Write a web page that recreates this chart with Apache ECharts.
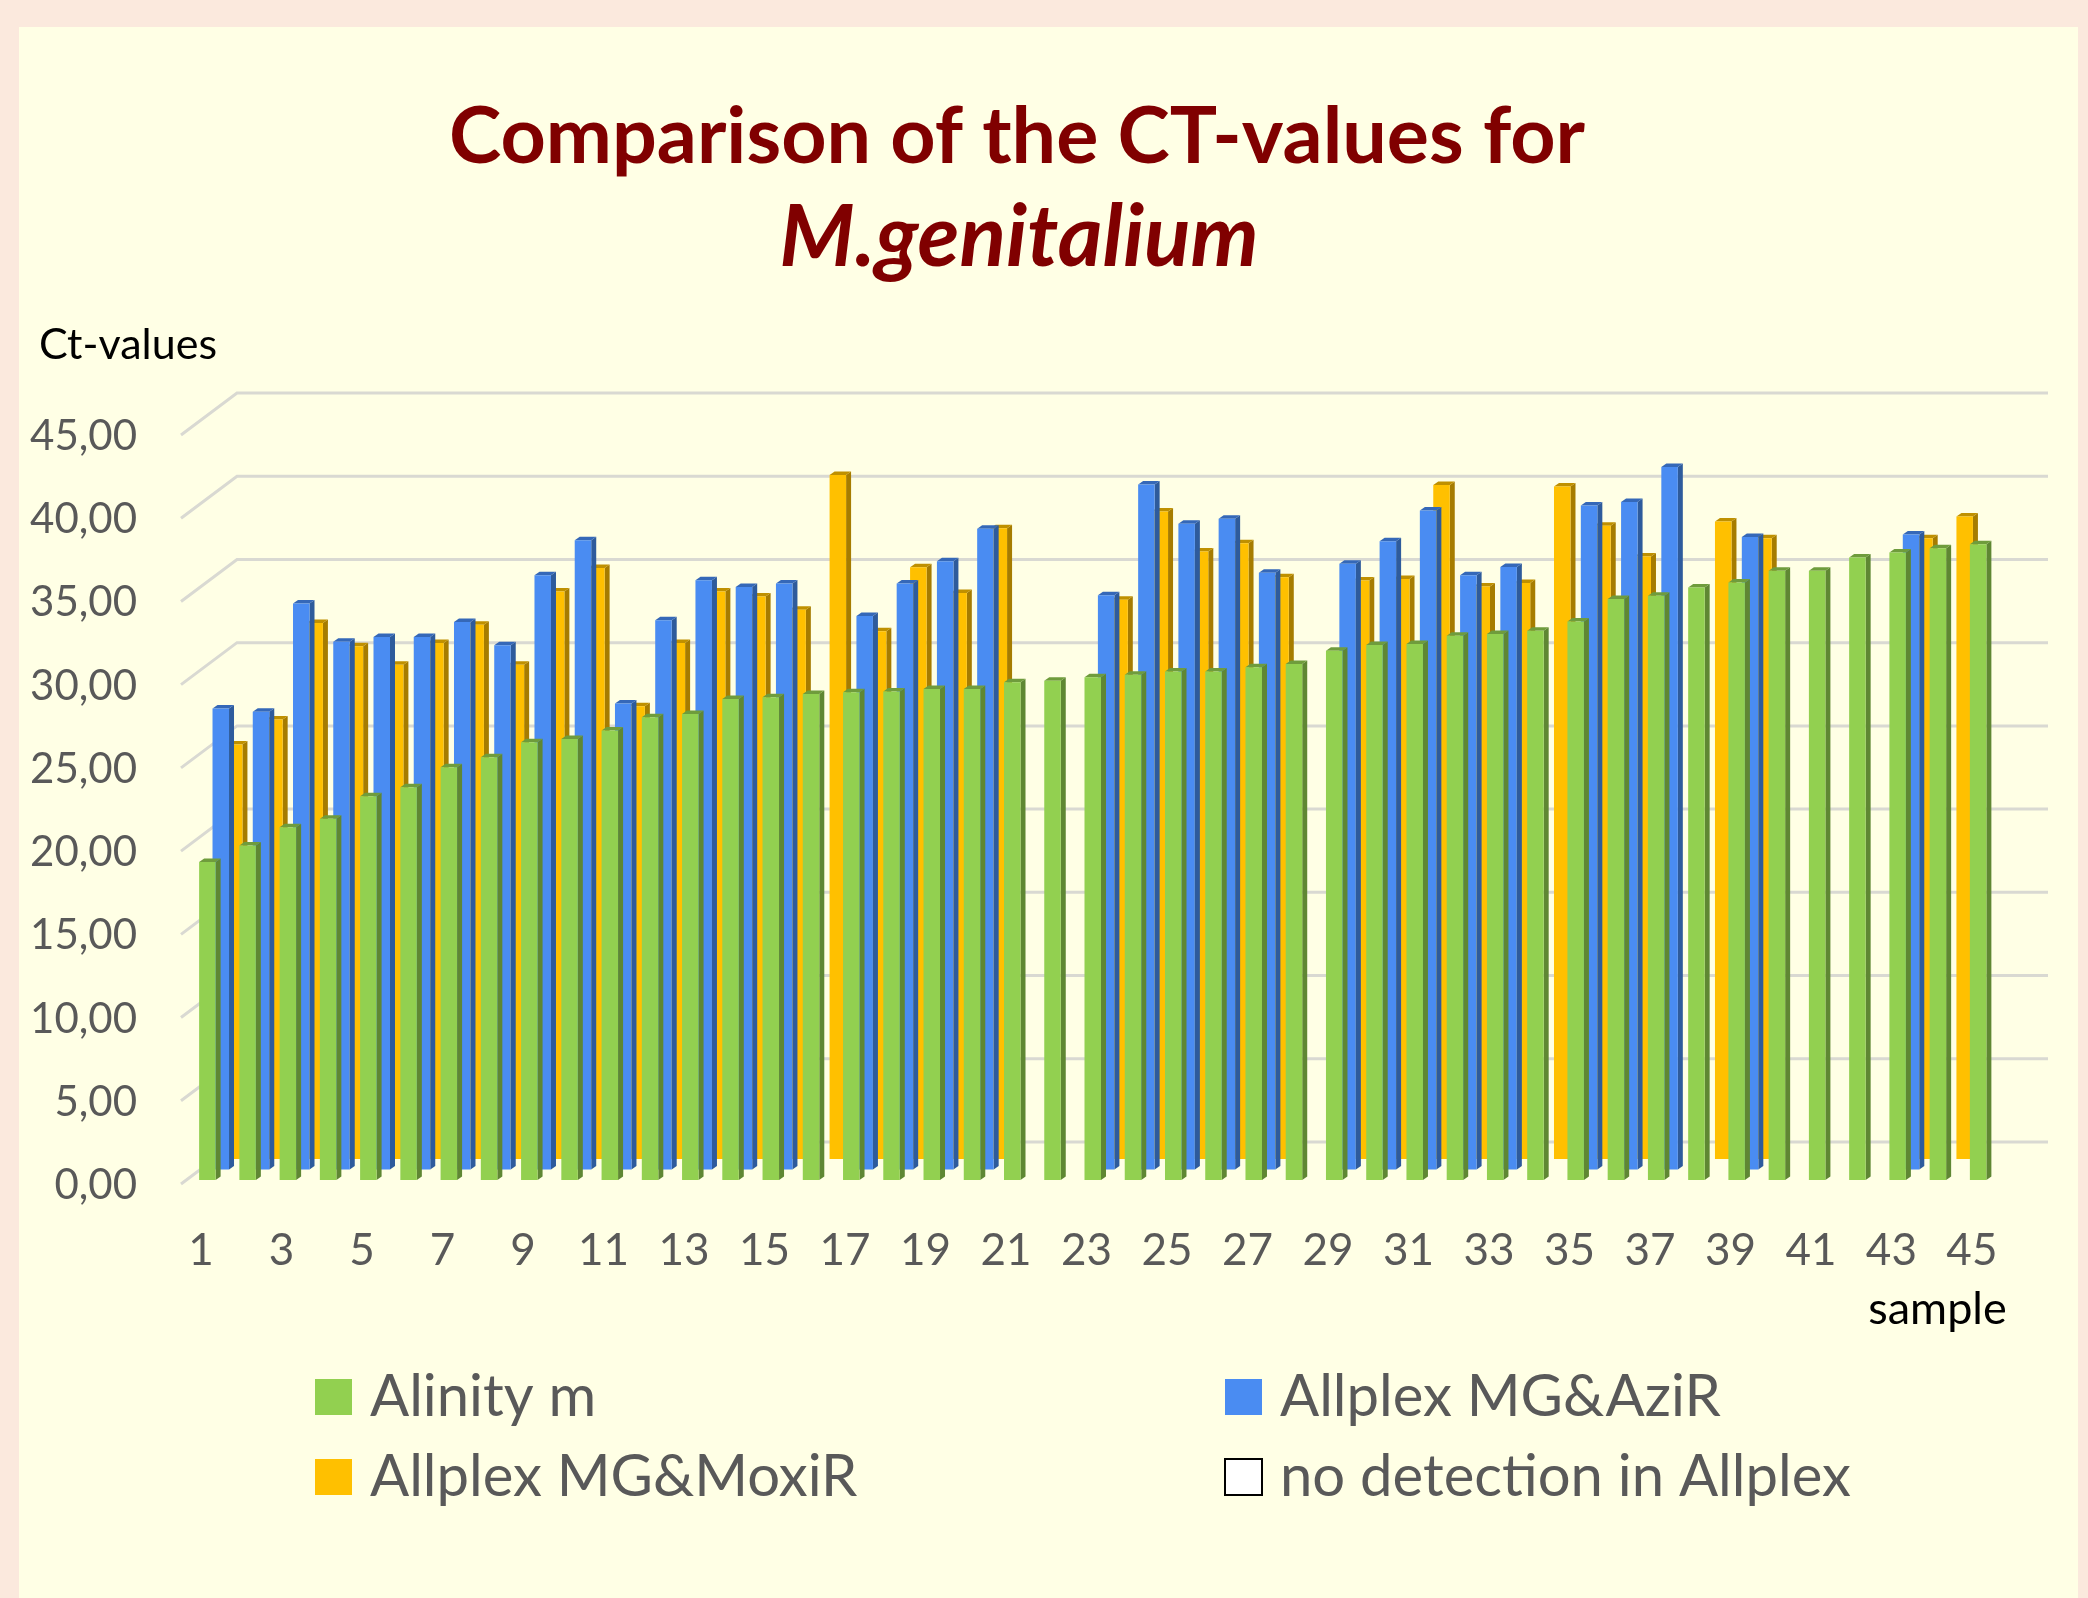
<!DOCTYPE html>
<html>
<head>
<meta charset="utf-8">
<title>CT-values M.genitalium</title>
<style>
html, body { margin: 0; padding: 0; background: #fbe9dd; }
#panel { position: absolute; left: 19px; top: 27px; width: 2059px; height: 1571px; background: #ffffe5; }
#chart { position: absolute; left: 0; top: 0; width: 2088px; height: 1598px; }
</style>
<script src="https://cdn.jsdelivr.net/npm/echarts@6/dist/echarts.min.js"></script>
</head>
<body>
<div id="panel"></div>
<div id="chart"></div>
<script>
var samples = ['1','2','3','4','5','6','7','8','9','10','11','12','13','14','15','16','17','18','19','20','21','22','23','24','25','26','27','28','29','30','31','32','33','34','35','36','37','38','39','40','41','42','43','44','45']
var yTicks = [0, 5, 10, 15, 20, 25, 30, 35, 40, 45]

var alinity = [19.1, 20.1, 21.2, 21.7, 23.05, 23.6, 24.8, 25.4, 26.3, 26.5, 27.0, 27.8, 28.0, 28.9, 29.0, 29.2, 29.3, 29.35, 29.5, 29.5, 29.9, 30.0, 30.2, 30.35, 30.55, 30.55, 30.8, 31.0, 31.8, 32.15, 32.2, 32.7, 32.8, 33.0, 33.55, 34.9, 35.1, 35.6, 35.9, 36.6, 36.6, 37.4, 37.7, 37.95, 38.2]
var allplexAzi = [27.7, 27.5, 34.0, 31.7, 32.0, 32.0, 32.9, 31.5, 35.7, 37.8, 28.0, 33.0, 35.4, 35.0, 35.2, null, 33.25, 35.2, 36.55, 38.5, null, null, 34.5, 41.15, 38.8, 39.1, 35.85, null, 36.4, 37.75, 39.6, 35.7, 36.2, null, 39.9, 40.1, 42.2, null, 38.0, null, null, null, 38.15, null, null]
var allplexMoxi = [24.9, 26.4, 32.2, 30.8, 29.7, 31.0, 32.1, 29.7, 34.1, 35.5, 27.2, 31.0, 34.1, 33.8, 33.0, 41.1, 31.7, 35.55, 34.0, 37.9, null, null, 33.6, 38.9, 36.5, 37.0, 34.95, null, 34.75, 34.85, 40.5, 34.4, 34.6, 40.4, 38.05, 36.2, null, 38.3, 37.3, null, null, null, 37.3, 38.6, null]

var labelFont = 'Lato'
var stepX = 13.4, stepY = 10.5      // shift between the rows of the 3D chart
var barW = 16.5, sideX = 5, sideY = 3.5
var wallX = 56, wallY = 42

// bar with front, side and top face, row 0 is the front row
function bar3d(row, front, side, top) {
    return function (params, api) {
        var p = api.coord([api.value(0), api.value(1)])
        var b = api.coord([api.value(0), 0])
        var x = b[0] - 2 + row * stepX
        var y0 = b[1] - row * stepY
        var y1 = p[1] - row * stepY
        var face = function (pts, fill) {
            return { type: 'polygon', shape: { points: pts }, style: { fill: fill }, silent: true }
        }
        return {
            type: 'group',
            children: [
                face([[x + barW, y1], [x + barW + sideX, y1 - sideY], [x + barW + sideX, y0 - sideY], [x + barW, y0]], side),
                face([[x, y1], [x + sideX, y1 - sideY], [x + barW + sideX, y1 - sideY], [x + barW, y1]], top),
                face([[x, y1], [x + barW, y1], [x + barW, y0], [x, y0]], front)
            ]
        }
    }
}

function wallLine(params, api) {
    var y = api.coord([0, api.value(1)])[1]
    var cs = params.coordSys
    return {
        type: 'polyline',
        silent: true,
        shape: { points: [[cs.x, y + 4], [cs.x + wallX, y - wallY + 4], [cs.x + wallX + cs.width, y - wallY + 4]] },
        style: { fill: null, stroke: '#d9d9d2', lineWidth: 3 }
    }
}

function toPoints(values) {
    return values.map(function (v, i) { return [i, v] }).filter(function (d) { return d[1] !== null })
}

var chart = echarts.init(document.getElementById('chart'))
chart.setOption({
    animation: false,
    title: [{
        text: 'Comparison of the CT-values for',
        left: 1012, top: 133, textAlign: 'center', textVerticalAlign: 'middle',
        textStyle: { fontFamily: 'Lato', fontWeight: 'bold', fontSize: 79, color: '#800000' }
    }, {
        text: 'M.genitalium',
        left: 1014, top: 233, textAlign: 'center', textVerticalAlign: 'middle',
        textStyle: { fontFamily: 'Lato', fontWeight: 'bold', fontStyle: 'italic', fontSize: 86, color: '#800000' }
    }],
    grid: { left: 181, width: 1811, top: 431, height: 749 },
    xAxis: {
        type: 'category',
        data: samples,
        axisLine: { show: false },
        axisTick: { show: false },
        axisLabel: { interval: 1, margin: 49, fontFamily: labelFont, fontSize: 44, color: '#595959' },
        name: 'sample',
        nameLocation: 'end',
        nameGap: 0,
        nameTextStyle: { fontFamily: labelFont, fontSize: 45, color: '#000', align: 'center', verticalAlign: 'top', padding: [107, 109, 0, 0] }
    },
    yAxis: {
        type: 'value',
        min: 0,
        max: 45,
        interval: 5,
        splitLine: { show: false },
        axisLine: { show: false },
        axisTick: { show: false },
        axisLabel: {
            margin: 44,
            verticalAlign: 'top',
            lineHeight: 11,
            fontFamily: labelFont,
            fontSize: 42,
            color: '#595959',
            formatter: function (v) { return v.toFixed(2).replace('.', ',') }
        },
        name: 'Ct-values',
        nameLocation: 'end',
        nameGap: 64,
        nameTextStyle: { fontFamily: labelFont, fontSize: 43, color: '#000', align: 'center', padding: [0, 106, 0, 0] }
    },
    legend: [{
        orient: 'vertical',
        left: 310, top: 1363,
        itemWidth: 37, itemHeight: 36, itemGap: 22,
        selectedMode: false,
        textStyle: { fontFamily: labelFont, fontSize: 58, lineHeight: 36, color: '#595959', padding: [0, 0, 0, 13] },
        data: [
            { name: 'Alinity m', icon: 'rect' },
            { name: 'Allplex MG&MoxiR', icon: 'rect' }
        ]
    }, {
        orient: 'vertical',
        left: 1219, top: 1363,
        itemWidth: 37, itemHeight: 36, itemGap: 22,
        selectedMode: false,
        textStyle: { fontFamily: labelFont, fontSize: 58, lineHeight: 36, color: '#595959', padding: [0, 0, 0, 13] },
        data: [
            { name: 'Allplex MG&AziR', icon: 'rect' },
            { name: 'no detection in Allplex', icon: 'rect', itemStyle: { color: '#fff', borderColor: '#000', borderWidth: 2 } }
        ]
    }],
    series: [{
        name: 'wall',
        type: 'custom',
        renderItem: wallLine,
        data: yTicks.map(function (t) { return [0, t] }),
        z: 1
    }, {
        name: 'Allplex MG&MoxiR',
        type: 'custom',
        renderItem: bar3d(2, '#ffc000', '#a67c00', '#bf9000'),
        itemStyle: { color: '#ffc000' },
        data: toPoints(allplexMoxi),
        z: 2
    }, {
        name: 'Allplex MG&AziR',
        type: 'custom',
        renderItem: bar3d(1, '#4a8cf2', '#2e5b9c', '#3568b8'),
        itemStyle: { color: '#4a8cf2' },
        data: toPoints(allplexAzi),
        z: 3
    }, {
        name: 'Alinity m',
        type: 'custom',
        renderItem: bar3d(0, '#92d050', '#5f8733', '#6f9c3c'),
        itemStyle: { color: '#92d050' },
        data: toPoints(alinity),
        z: 4
    }, {
        name: 'no detection in Allplex',
        type: 'custom',
        renderItem: function () { return null },
        itemStyle: { color: '#fff' },
        data: []
    }]
})
</script>
</body>
</html>
